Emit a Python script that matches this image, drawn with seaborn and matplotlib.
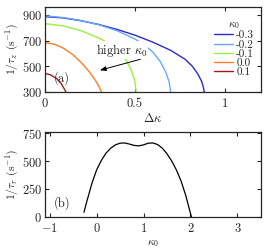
import numpy as np
import pandas as pd
import matplotlib
matplotlib.use("Agg")
import matplotlib.pyplot as plt
import seaborn as sns

# (a) relaxation rate vs delta kappa, one curve per kappa0
kappa0_labels = ['-0.3', '-0.2', '-0.1', '0.0', '0.1']
dk_m03 = [0, 0.1, 0.2, 0.3, 0.4, 0.5, 0.6, 0.7, 0.78, 0.82, 0.85, 0.87, 0.88, 0.886]
rate_m03 = [890, 880, 858, 828, 790, 745, 690, 625, 555, 500, 440, 385, 340, 295]
dk_m02 = [0, 0.1, 0.2, 0.3, 0.4, 0.5, 0.55, 0.6, 0.64, 0.67, 0.69, 0.699]
rate_m02 = [896, 883, 860, 826, 780, 715, 672, 612, 540, 460, 380, 295]
dk_m01 = [0, 0.1, 0.2, 0.3, 0.36, 0.4, 0.45, 0.48, 0.5, 0.507]
rate_m01 = [835, 818, 780, 722, 678, 638, 552, 470, 380, 295]
dk_00 = [0, 0.05, 0.1, 0.157, 0.2, 0.25, 0.28, 0.3, 0.316]
rate_00 = [686, 675, 645, 590, 532, 452, 392, 342, 295]
dk_01 = [0, 0.03, 0.065, 0.09, 0.105, 0.118]
rate_01 = [445, 435, 405, 365, 330, 295]
colors = ['#2a2ad0', '#66a8ff', '#9cf03c', '#ff7f2a', '#a01e1e']

# (b) relaxation rate vs kappa0
kappa0 = [-0.27, -0.2, -0.1, 0.0, 0.1, 0.2, 0.3, 0.4, 0.5, 0.6, 0.7, 0.8, 0.9,
          1.0, 1.1, 1.2, 1.3, 1.4, 1.5, 1.6, 1.7, 1.8, 1.9, 1.95, 2.0, 2.02]
rate_r = [40, 150, 300, 420, 505, 570, 615, 645, 660, 662, 652, 640, 636,
          645, 660, 662, 648, 615, 565, 500, 420, 320, 190, 110, 30, 0]

sns.set_style("ticks")
plt.rcParams.update({
    'font.family': 'serif',
    'font.serif': ['cmr10', 'DejaVu Serif'],
    'mathtext.fontset': 'cm',
    'axes.formatter.use_mathtext': True,
    'font.size': 9,
    'axes.linewidth': 0.9,
    'xtick.direction': 'in', 'ytick.direction': 'in',
    'xtick.top': True, 'ytick.right': True,
    'xtick.major.size': 3, 'ytick.major.size': 3,
    'xtick.major.pad': 4, 'ytick.major.pad': 2,
})

frames = []
for lab, x, y in zip(kappa0_labels, [dk_m03, dk_m02, dk_m01, dk_00, dk_01],
                     [rate_m03, rate_m02, rate_m01, rate_00, rate_01]):
    frames.append(pd.DataFrame({'dk': x, 'rate': y, 'kappa0': lab}))
df_a = pd.concat(frames, ignore_index=True)
df_b = pd.DataFrame({'kappa0': kappa0, 'rate': rate_r})

fig = plt.figure(figsize=(2.75, 2.52), dpi=100)
ax1 = fig.add_axes([0.1636, 0.635, 0.785, 0.337])
ax2 = fig.add_axes([0.1636, 0.140, 0.785, 0.336])

sns.lineplot(data=df_a, x='dk', y='rate', hue='kappa0', hue_order=kappa0_labels,
             palette=colors, estimator=None, sort=False, lw=1.0, ax=ax1)
ax1.set_xlim(0, 1.2)
ax1.set_ylim(300, 965)
ax1.set_xticks([0, 0.5, 1])
ax1.set_xticklabels(['0', '0.5', '1'])
ax1.set_yticks([300, 500, 700, 900])
ax1.set_xlabel(r'$\Delta\kappa$', labelpad=2, fontsize=9)
ax1.set_ylabel(r'$1/\tau_z\ (\mathrm{s}^{-1})$', labelpad=1, fontsize=8.5)
leg = ax1.legend(title=r'$\kappa_0$', frameon=False, loc='upper right',
                 bbox_to_anchor=(1.0, 0.93), fontsize=8, title_fontsize=8,
                 handlelength=1.7, handletextpad=0.3, labelspacing=-0.05,
                 borderaxespad=0.2)
ax1.text(0.094, 407, '(a)', ha='center', va='center')
ax1.text(0.285, 627, r'higher $\kappa_0$', ha='left', va='center',
         bbox=dict(fc='white', ec='none', pad=0.3))
ax1.annotate('', xy=(0.305, 470), xytext=(0.53, 556),
             arrowprops=dict(arrowstyle='-|>,head_length=0.4,head_width=0.15',
                             color='black', lw=0.7, shrinkA=0, shrinkB=0))

sns.lineplot(data=df_b, x='kappa0', y='rate', color='black', lw=0.9,
             estimator=None, ax=ax2)
ax2.set_xlim(-1.1, 3.5)
ax2.set_ylim(0, 760)
ax2.set_xticks([-1, 0, 1, 2, 3])
ax2.set_yticks([0, 250, 500, 750])
ax2.set_xlabel(r'$\kappa_0$', labelpad=2, fontsize=8)
ax2.set_ylabel(r'$1/\tau_r\ (\mathrm{s}^{-1})$', labelpad=1, fontsize=8.5)
ax2.text(-0.745, 123, '(b)', ha='center', va='center')

fig.savefig('out.png', dpi=100)
